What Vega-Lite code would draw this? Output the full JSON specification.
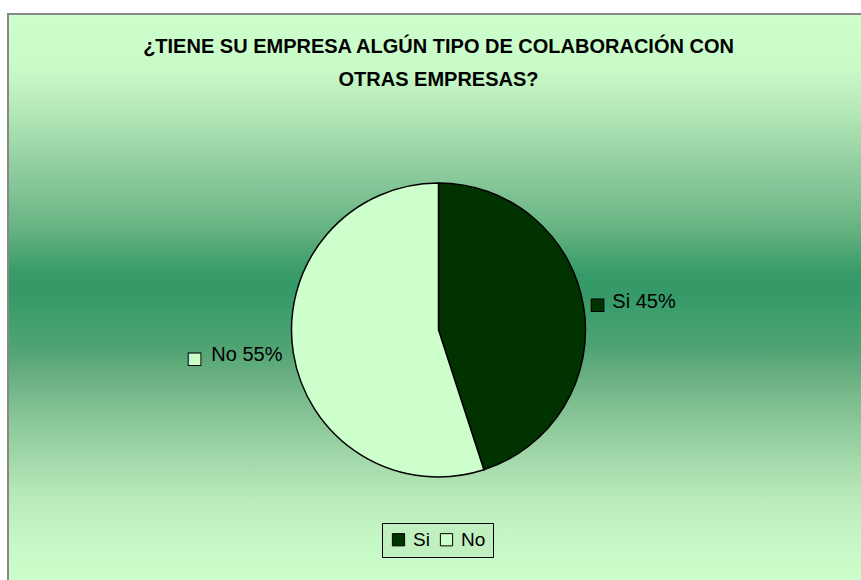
{
  "$schema": "https://vega.github.io/schema/vega-lite/v6.json",
  "width": 861,
  "height": 632,
  "autosize": {"type": "none"},
  "padding": {"left": 8, "top": 14, "right": 0, "bottom": 0},
  "background": "white",
  "title": {
    "text": ["¿TIENE SU EMPRESA ALGÚN TIPO DE COLABORACIÓN CON", "OTRAS EMPRESAS?"],
    "anchor": "middle",
    "offset": -77,
    "font": "Liberation Sans",
    "fontSize": 20,
    "fontWeight": "bold",
    "color": "black",
    "lineHeight": 33
  },
  "data": {
    "values": [
      {"cat": "Si", "pct": 45, "o": 1, "label": "Si 45%"},
      {"cat": "No", "pct": 55, "o": 2, "label": "No 55%"}
    ]
  },
  "config": {"view": {"stroke": null}},
  "layer": [
    {
      "mark": {
        "type": "rect",
        "stroke": "#888888",
        "strokeWidth": 2,
        "color": {
          "gradient": "linear",
          "x1": 0, "y1": 0, "x2": 0, "y2": 1,
          "stops": [
            {"offset": 0, "color": "#CCFFCC"},
            {"offset": 0.084, "color": "#C8FBC8"},
            {"offset": 0.136, "color": "#BAEDBB"},
            {"offset": 0.215, "color": "#9DD6A8"},
            {"offset": 0.247, "color": "#8ECC9E"},
            {"offset": 0.294, "color": "#7CC090"},
            {"offset": 0.347, "color": "#62B17E"},
            {"offset": 0.38, "color": "#4AA572"},
            {"offset": 0.413, "color": "#369A68"},
            {"offset": 0.44, "color": "#359A68"},
            {"offset": 0.505, "color": "#47A170"},
            {"offset": 0.532, "color": "#52A474"},
            {"offset": 0.571, "color": "#68AF81"},
            {"offset": 0.611, "color": "#7CBD8E"},
            {"offset": 0.665, "color": "#93CD9E"},
            {"offset": 0.722, "color": "#A9DDAF"},
            {"offset": 0.753, "color": "#B5E8B8"},
            {"offset": 0.821, "color": "#C5F5C5"},
            {"offset": 0.896, "color": "#CCFFCC"},
            {"offset": 1, "color": "#CCFFCC"}
          ]
        }
      },
      "encoding": {}
    },
    {
      "mark": {"type": "arc", "outerRadius": 147, "stroke": "black", "strokeWidth": 1.5},
      "encoding": {
        "theta": {"field": "pct", "type": "quantitative", "stack": true},
        "order": {"field": "o", "type": "quantitative"},
        "color": {
          "field": "cat",
          "type": "nominal",
          "scale": {"domain": ["Si", "No"], "range": ["#003300", "#CCFFCC"]},
          "legend": {
            "orient": "none",
            "legendX": 374,
            "legendY": 509,
            "direction": "horizontal",
            "title": null,
            "symbolType": "square",
            "symbolSize": 150,
            "symbolStrokeColor": "black",
            "symbolStrokeWidth": 1,
            "labelFont": "Liberation Sans",
            "labelFontSize": 19,
            "labelColor": "black",
            "labelOffset": 5,
            "columnPadding": 7,
            "fillColor": "#C0F0C0",
            "strokeColor": "black",
            "padding": 7
          }
        }
      }
    },
    {
      "mark": {
        "type": "text",
        "radius": {"expr": "datum.cat == 'Si' ? 176 : 158"},
        "align": {"expr": "datum.cat == 'Si' ? 'left' : 'right'"},
        "baseline": "middle",
        "font": "Liberation Sans",
        "fontSize": 20,
        "color": "black"
      },
      "encoding": {
        "theta": {"field": "pct", "type": "quantitative", "stack": true},
        "order": {"field": "o", "type": "quantitative"},
        "text": {"field": "label", "type": "nominal"}
      }
    },
    {
      "mark": {
        "type": "text",
        "text": "■",
        "radius": {"expr": "datum.cat == 'Si' ? 161 : 247"},
        "dy": {"expr": "datum.cat == 'Si' ? 0 : -10"},
        "align": "center",
        "baseline": "middle",
        "font": "Liberation Sans",
        "fontSize": 26,
        "stroke": "black",
        "strokeWidth": 1
      },
      "encoding": {
        "theta": {"field": "pct", "type": "quantitative", "stack": true},
        "order": {"field": "o", "type": "quantitative"},
        "color": {"field": "cat", "type": "nominal", "legend": null}
      }
    }
  ]
}
